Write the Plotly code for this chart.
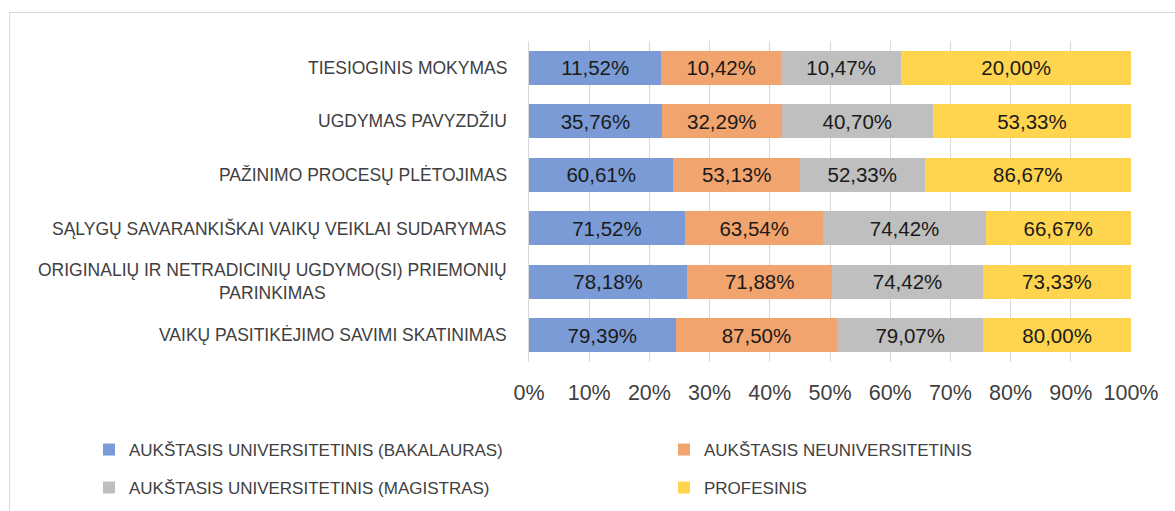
import plotly.graph_objects as go

categories = [
    "TIESIOGINIS MOKYMAS",
    "UGDYMAS PAVYZDŽIU",
    "PAŽINIMO PROCESŲ PLĖTOJIMAS",
    "SĄLYGŲ SAVARANKIŠKAI VAIKŲ VEIKLAI SUDARYMAS",
    "ORIGINALIŲ IR NETRADICINIŲ UGDYMO(SI) PRIEMONIŲ<br>PARINKIMAS",
    "VAIKŲ PASITIKĖJIMO SAVIMI SKATINIMAS",
]
series_names = [
    "AUKŠTASIS UNIVERSITETINIS (BAKALAURAS)",
    "AUKŠTASIS NEUNIVERSITETINIS",
    "AUKŠTASIS UNIVERSITETINIS (MAGISTRAS)",
    "PROFESINIS",
]
bakalauras = [11.52, 35.76, 60.61, 71.52, 78.18, 79.39]
neuniversitetinis = [10.42, 32.29, 53.13, 63.54, 71.88, 87.50]
magistras = [10.47, 40.70, 52.33, 74.42, 74.42, 79.07]
profesinis = [20.00, 53.33, 86.67, 66.67, 73.33, 80.00]
tick_vals = [0, 10, 20, 30, 40, 50, 60, 70, 80, 90, 100]
tick_text = ["0%", "10%", "20%", "30%", "40%", "50%", "60%", "70%", "80%", "90%", "100%"]

all_series = [bakalauras, neuniversitetinis, magistras, profesinis]
colors = ["#7A9BD6", "#F2A46E", "#BFBFBF", "#FFD44F"]
legend_ids = ["legend", "legend2", "legend3", "legend4"]
# legend anchor positions in pixels (left x of item, centre y)
legend_pos = [(89, 450), (664, 450), (89, 488), (664, 488)]

FONT = "Liberation Sans, Arial"
W, H = 1175, 511

fig = go.Figure()
for name, vals, col, lg in zip(series_names, all_series, colors, legend_ids):
    fig.add_trace(go.Bar(
        y=categories, x=vals, orientation="h", name=name,
        marker=dict(color=col, line=dict(width=0)),
        text=[f"{v:.2f}%".replace(".", ",") for v in vals],
        textposition="inside", insidetextanchor="middle", textangle=0,
        constraintext="none",
        textfont=dict(family=FONT, size=20.5, color="#1a1a1a"),
        legend=lg,
    ))

annotations = []
for c in categories:
    annotations.append(dict(
        x=0, xref="paper", y=c, yref="y", xanchor="right", yanchor="middle",
        xshift=-20, text=c, showarrow=False, align="center",
        font=dict(family=FONT, size=17.5, color="#404040"),
    ))

legend_layouts = {}
for lg, (px, py) in zip(legend_ids, legend_pos):
    legend_layouts[lg] = dict(
        orientation="h", xref="container", yref="container",
        x=px / W, y=1 - py / H, xanchor="left", yanchor="middle",
        font=dict(family=FONT, size=17, color="#404040"),
        bgcolor="rgba(0,0,0,0)", borderwidth=0,
    )

fig.update_layout(
    width=W, height=H,
    barmode="stack", barnorm="percent", bargap=0.365,
    margin=dict(l=529, r=44, t=41, b=149),
    plot_bgcolor="white", paper_bgcolor="white",
    font=dict(family=FONT, size=18, color="#404040"),
    annotations=annotations,
    xaxis=dict(range=[0, 100], tickvals=tick_vals, ticktext=tick_text,
               showgrid=True, gridcolor="#D9D9D9", gridwidth=1, zeroline=False,
               ticks="", ticklabelstandoff=15,
               tickfont=dict(family=FONT, size=21.5, color="#404040"),
               fixedrange=True),
    yaxis=dict(categoryorder="array", categoryarray=categories, autorange="reversed",
               showticklabels=False, showline=True, linecolor="#D9D9D9", linewidth=1,
               showgrid=False, zeroline=False, ticks=""),
    shapes=[
        dict(type="line", xref="paper", yref="paper",
             x0=(9 - 529) / (W - 529 - 44), x1=(W + 5 - 529) / (W - 529 - 44),
             y0=1 + (41 - 12.5) / (H - 41 - 149), y1=1 + (41 - 12.5) / (H - 41 - 149),
             line=dict(color="#D9D9D9", width=1)),
        dict(type="line", xref="paper", yref="paper",
             x0=(9.5 - 529) / (W - 529 - 44), x1=(9.5 - 529) / (W - 529 - 44),
             y0=1 + (41 - 12) / (H - 41 - 149), y1=-(H + 5 - 362) / (H - 41 - 149),
             line=dict(color="#D9D9D9", width=1)),
    ],
    showlegend=True,
    **legend_layouts,
)

fig.write_html("out.html")
